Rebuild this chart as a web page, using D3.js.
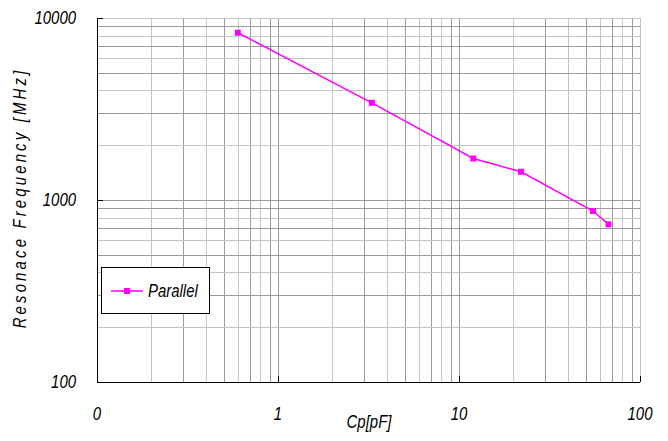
<!DOCTYPE html>
<html><head><meta charset="utf-8">
<script src="https://cdn.jsdelivr.net/npm/d3@7/dist/d3.min.js"></script>
<style>body{margin:0;background:#fff}text{font-family:"Liberation Sans",Arial,sans-serif;font-style:italic}</style>
</head><body><svg id="c" width="668" height="441"></svg>
<script>
const capacitance = [0.6, 3.3, 12, 22, 55, 67];
const frequency = [8300, 3420, 1690, 1430, 870, 735];
const xTickValues = [0.1, 1, 10, 100];
const xTickLabels = ["0", "1", "10", "100"];
const yTickValues = [100, 1000, 10000];
const yTickLabels = ["100", "1000", "10000"];
const seriesName = "Parallel";

const svg = d3.select("#c");
const L = 97, R = 640, T = 18, B = 382;
const SX = 0.83; // narrow glyph look
const x = d3.scaleLog().domain([0.1, 100]).range([L, R]);
const y = d3.scaleLog().domain([100, 10000]).range([B, T]);

// grid
const xg = [], yg = [];
for (let d = 0.1; d < 100; d *= 10) for (let k = 1; k <= 10; k++) xg.push({v: d * k, k});
for (let d = 100; d < 10000; d *= 10) for (let k = 1; k <= 10; k++) yg.push({v: d * k, k});
const grid = svg.append("g");
grid.selectAll(".vx").data(xg).join("line")
  .attr("x1", d => Math.round(x(d.v)) + 0.5).attr("x2", d => Math.round(x(d.v)) + 0.5)
  .attr("y1", T).attr("y2", B)
  .attr("stroke", d => d.k % 2 ? "#9a9a9a" : "#c4c4c4").attr("stroke-width", 1);
grid.selectAll(".hy").data(yg).join("line")
  .attr("y1", d => Math.round(y(d.v)) + 0.5).attr("y2", d => Math.round(y(d.v)) + 0.5)
  .attr("x1", L).attr("x2", R)
  .attr("stroke", d => d.k % 2 ? "#9a9a9a" : "#c4c4c4").attr("stroke-width", 1);

// axes lines
svg.append("line").attr("x1", L + 0.5).attr("x2", L + 0.5).attr("y1", T).attr("y2", B).attr("stroke", "#000");
svg.append("line").attr("x1", L).attr("x2", R).attr("y1", B + 0.5).attr("y2", B + 0.5).attr("stroke", "#000");
// tick marks
svg.selectAll(".xt").data(xTickValues).join("line")
  .attr("x1", d => Math.round(x(d)) + 0.5).attr("x2", d => Math.round(x(d)) + 0.5)
  .attr("y1", B).attr("y2", B - 6).attr("stroke", "#000");
svg.selectAll(".yt").data(yTickValues).join("line")
  .attr("y1", d => Math.round(y(d)) + 0.5).attr("y2", d => Math.round(y(d)) + 0.5)
  .attr("x1", L).attr("x2", L + 6).attr("stroke", "#000");

// tick labels
svg.selectAll(".xl").data(xTickValues).join("text")
  .attr("transform", d => `translate(${x(d)},420) scale(${SX},1)`).attr("text-anchor", "middle")
  .attr("font-size", 18).text((d, i) => xTickLabels[i]);
svg.selectAll(".yl").data(yTickValues).join("text")
  .attr("transform", d => `translate(76,${y(d) + 6}) scale(${SX},1)`).attr("text-anchor", "end")
  .attr("font-size", 18).text((d, i) => yTickLabels[i]);

// titles
svg.append("text").attr("transform", `translate(369,428) scale(${SX},1)`).attr("text-anchor", "middle")
  .attr("font-size", 18).text("Cp[pF]");
svg.append("text").attr("transform", `translate(26,198) rotate(-90) scale(${SX},1)`).attr("text-anchor", "middle")
  .attr("font-size", 18).attr("letter-spacing", 3.8).text("Resonace Frequency [MHz]");

// series
const pts = capacitance.map((c, i) => [c, frequency[i]]);
svg.append("path").datum(pts)
  .attr("d", d3.line().x(d => x(d[0])).y(d => y(d[1])))
  .attr("fill", "none").attr("stroke", "#ff00ff").attr("stroke-width", 1.5);
svg.selectAll(".pt").data(pts).join("rect")
  .attr("x", d => x(d[0]) - 3).attr("y", d => y(d[1]) - 3)
  .attr("width", 6).attr("height", 6).attr("fill", "#ff00ff");

// legend
const lg = svg.append("g");
lg.append("rect").attr("x", 101.5).attr("y", 267.5).attr("width", 108).attr("height", 46)
  .attr("fill", "#fff").attr("stroke", "#000");
lg.append("line").attr("x1", 111).attr("x2", 143).attr("y1", 291).attr("y2", 291)
  .attr("stroke", "#ff00ff").attr("stroke-width", 1.5);
lg.append("rect").attr("x", 124).attr("y", 288).attr("width", 6).attr("height", 6).attr("fill", "#ff00ff");
lg.append("text").attr("transform", `translate(148,297) scale(${SX},1)`).attr("font-size", 18).text(seriesName);
</script></body></html>
